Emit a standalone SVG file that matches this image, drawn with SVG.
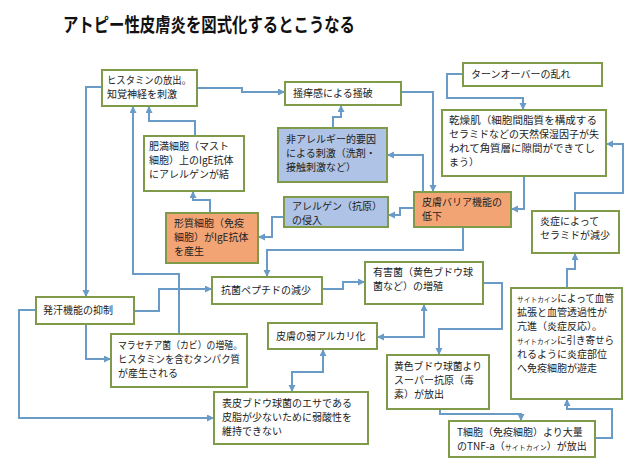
<svg xmlns="http://www.w3.org/2000/svg" width="640" height="470" viewBox="0 0 640 470">
<style>
.bx{fill:#ffffff;stroke:#7f9a48;stroke-width:2}
.or{fill:#f2a475}
.bl{fill:#aec3e5}
.t{font-family:"Noto Sans CJK JP","Noto Sans CJK SC",sans-serif;font-size:10px;fill:#222}
.s{font-size:7px}
.title{font-family:"Noto Sans CJK JP","Noto Sans CJK SC",sans-serif;font-size:19px;font-weight:bold;fill:#111}
.c{fill:none;stroke:#6a9ac6;stroke-width:2;marker-end:url(#ah)}
.d{marker-start:url(#ah)}
</style>
<defs>
<marker id="ah" markerWidth="8" markerHeight="8" refX="7" refY="3.5" orient="auto-start-reverse" markerUnits="userSpaceOnUse">
<path d="M0,0 L7,3.5 L0,7 z" fill="#6a9ac6"/>
</marker>
</defs>
<rect width="640" height="470" fill="#ffffff"/>
<text class="title" x="63" y="32" textLength="292" lengthAdjust="spacingAndGlyphs">アトピー性皮膚炎を図式化するとこうなる</text>

<g id="connectors">
<path class="c" d="M197,88 H242 V92 H285"/>
<path class="c" d="M102,87 H86 V297"/>
<path class="c" d="M195,136 V121 H149 V106"/>
<path class="c" d="M179,334 V274 H133 V106"/>
<path class="c" d="M210,213 V200 H193 V191"/>
<path class="c" d="M284,217 H272 V237 H258"/>
<path class="c" d="M333,128 V117 H341 V105"/>
<path class="c" d="M401,92 H433 V192"/>
<path class="c" d="M423,192 V155 H387"/>
<path class="c" d="M414,208 H400 V215 H388"/>
<path class="c" d="M463,74 H447 V98 H523 V110"/>
<path class="c" d="M524,176 V209 H511"/>
<path class="c" d="M575,211 V193 H623 V144 H606"/>
<path class="c" d="M567,288 V269 H575 V253"/>
<path class="c" d="M595,438 H612 V409 H567 V399"/>
<path class="c" d="M440,409 V414 H521 V421"/>
<path class="c" d="M483,283 H502 V329 H439 V355"/>
<path class="c d" d="M424,304 V337 H377"/>
<path class="c d" d="M323,349 V372 H292 V392"/>
<path class="c" d="M463,227 V250 H267 V277"/>
<path class="c" d="M322,289 H343 V282 H365"/>
<path class="c" d="M134,311 H159 V289 H212"/>
<path class="c" d="M86,324 V359 H111"/>
<path class="c" d="M36,310 H19 V418 H214"/>
</g>

<g id="n-histamine"><rect class="bx" x="102" y="70" width="95" height="36"/>
<text class="t" x="107" y="83.5" textLength="84" lengthAdjust="spacingAndGlyphs">ヒスタミンの放出。</text><text class="t" x="107" y="97.5">知覚神経を刺激</text></g>

<g id="n-himan"><rect class="bx" x="144" y="136" width="100" height="55"/>
<text class="t" x="149" y="150">肥満細胞（マスト</text><text class="t" x="149" y="164">細胞）上のIgE抗体</text><text class="t" x="149" y="178">にアレルゲンが結</text></g>

<g id="n-hakkan"><rect class="bx" x="36" y="297" width="98" height="27"/>
<text class="t" x="43" y="314">発汗機能の抑制</text></g>

<g id="n-malassezia"><rect class="bx" x="111" y="334" width="136" height="53"/>
<text class="t" x="118" y="349" textLength="124" lengthAdjust="spacingAndGlyphs">マラセチア菌（カビ）の増殖。</text><text class="t" x="118" y="363" textLength="122" lengthAdjust="spacingAndGlyphs">ヒスタミンを含むタンパク質</text><text class="t" x="118" y="377">が産生される</text></g>

<g id="n-koukin"><rect class="bx" x="212" y="277" width="110" height="27"/>
<text class="t" x="221" y="294">抗菌ペプチドの減少</text></g>

<g id="n-yuugai"><rect class="bx" x="365" y="262" width="118" height="42"/>
<text class="t" x="373" y="276">有害菌（黄色ブドウ球</text><text class="t" x="373" y="290">菌など）の増殖</text></g>

<g id="n-alkali"><rect class="bx" x="268" y="323" width="109" height="26"/>
<text class="t" x="276" y="339.5">皮膚の弱アルカリ化</text></g>

<g id="n-hyouhi"><rect class="bx" x="214" y="392" width="154" height="52"/>
<text class="t" x="222" y="407">表皮ブドウ球菌のエサである</text><text class="t" x="222" y="421">皮脂が少ないために弱酸性を</text><text class="t" x="222" y="435">維持できない</text></g>

<g id="n-ouyoku"><rect class="bx" x="387" y="355" width="102" height="54"/>
<text class="t" x="394" y="370" textLength="88" lengthAdjust="spacingAndGlyphs">黄色ブドウ球菌より</text><text class="t" x="394" y="384">スーパー抗原（毒</text><text class="t" x="394" y="398">素）が放出</text></g>

<g id="n-tcell"><rect class="bx" x="449" y="421" width="146" height="36"/>
<text class="t" x="457" y="436">T細胞（免疫細胞）より大量</text><text class="t" x="457" y="450">のTNF-a（<tspan class="s">サイトカイン</tspan>）が放出</text></g>

<g id="n-cytokine"><rect class="bx" x="511" y="288" width="111" height="111"/>
<text class="t" x="517" y="302" textLength="97" lengthAdjust="spacingAndGlyphs"><tspan class="s">サイトカイン</tspan>によって血管</text>
<text class="t" x="517" y="316">拡張と血管透過性が</text>
<text class="t" x="517" y="330">亢進（炎症反応）。</text>
<text class="t" x="517" y="344" textLength="97" lengthAdjust="spacingAndGlyphs"><tspan class="s">サイトカイン</tspan>に引き寄せら</text>
<text class="t" x="517" y="358">れるように炎症部位</text>
<text class="t" x="517" y="372">へ免疫細胞が遊走</text></g>

<g id="n-enshou"><rect class="bx" x="532" y="211" width="87" height="42"/>
<text class="t" x="540" y="224.5">炎症によって</text><text class="t" x="540" y="238.5">セラミドが減少</text></g>

<g id="n-turnover"><rect class="bx" x="463" y="63" width="139" height="23"/>
<text class="t" x="471" y="78">ターンオーバーの乱れ</text></g>

<g id="n-kansou"><rect class="bx" x="442" y="110" width="164" height="66"/>
<text class="t" x="449" y="124" textLength="148" lengthAdjust="spacingAndGlyphs">乾燥肌（細胞間脂質を構成する</text><text class="t" x="449" y="138" textLength="150" lengthAdjust="spacingAndGlyphs">セラミドなどの天然保湿因子が失</text><text class="t" x="449" y="152" textLength="146" lengthAdjust="spacingAndGlyphs">われて角質層に隙間ができてし</text><text class="t" x="449" y="166">まう）</text></g>

<g id="n-barrier"><rect class="bx or" x="414" y="192" width="97" height="35"/>
<text class="t" x="422" y="205.5">皮膚バリア機能の</text><text class="t" x="422" y="219.5">低下</text></g>

<g id="n-nonallergy"><rect class="bx bl" x="278" y="128" width="109" height="54"/>
<text class="t" x="286" y="143">非アレルギー的要因</text><text class="t" x="286" y="157">による刺激（洗剤・</text><text class="t" x="286" y="171">接触刺激など）</text></g>

<g id="n-souyou"><rect class="bx" x="285" y="82" width="116" height="23"/>
<text class="t" x="293" y="97">掻痒感による掻破</text></g>

<g id="n-allergen"><rect class="bx bl" x="284" y="197" width="104" height="30"/>
<text class="t" x="292" y="209.5">アレルゲン（抗原）</text><text class="t" x="292" y="223.5">の侵入</text></g>

<g id="n-keishitsu"><rect class="bx or" x="166" y="213" width="92" height="50"/>
<text class="t" x="174" y="227">形質細胞（免疫</text><text class="t" x="174" y="241">細胞）がIgE抗体</text><text class="t" x="174" y="255">を産生</text></g>
</svg>
